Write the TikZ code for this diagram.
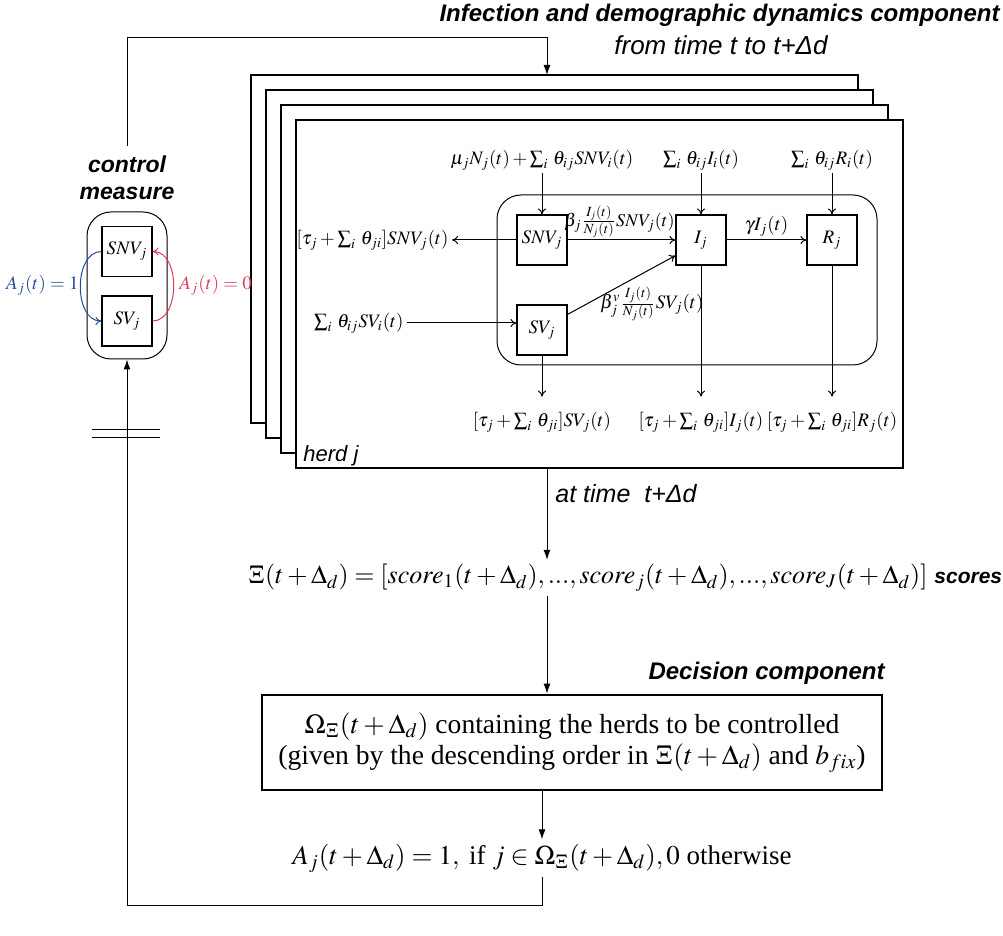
\documentclass[tikz,border=0pt]{standalone}
\usepackage{mathptmx}
\usepackage[no-math]{fontspec}
\setmainfont{Liberation Serif}
\setsansfont{Liberation Sans}
\usetikzlibrary{arrows.meta}
\definecolor{cblue}{RGB}{35,75,155}
\definecolor{cred}{RGB}{220,60,85}
\newcommand{\sgap}{\mkern2.5mu}
\tikzset{
  comp/.style={draw, line width=0.6pt, minimum width=25pt, minimum height=25pt, inner sep=0pt, font=\fontsize{9.5}{11}\selectfont},
  lab/.style={inner sep=1.5pt, font=\fontsize{9.5}{11}\selectfont},
  sflab/.style={inner sep=0pt, font=\fontsize{11}{13}\selectfont\sffamily\itshape},
  sfbold/.style={inner sep=0pt, font=\fontsize{12}{13.5}\selectfont\sffamily\bfseries\itshape},
  bigmath/.style={inner sep=2pt, font=\fontsize{13}{15}\selectfont},
  flow/.style={-{To[length=3pt,width=4pt]}, line width=0.5pt},
  bigflow/.style={-{Latex[length=5pt,width=3.5pt]}, line width=0.5pt},
  herdframe/.style={draw, line width=1.4pt, fill=white},
  group/.style={draw, rounded corners=12pt, line width=0.5pt, inner sep=0pt},
}
\begin{document}
\begin{tikzpicture}[x=0.5pt,y=-0.5pt]
\useasboundingbox (0,0) rectangle (1003,936);

% stacked herd frames
\foreach \k in {0,1,2,3}
  \draw[herdframe] (251+15*\k,75+15*\k) rectangle (858+15*\k,423+15*\k);
\coordinate (herdtop) at (547,75);
\coordinate (herdbot) at (547,468);

% titles
\node[sfbold, anchor=east] (ttl) at (1000,15) {Infection and demographic dynamics component};
\node[sflab, font=\fontsize{13}{15}\selectfont\sffamily\itshape] (ttl2) at (721,45) {from time t to t+Δd};
\node[sflab, anchor=south west] (herd) at (303,466) {herd j};

% control measure
\node[sfbold, font=\fontsize{11.5}{13.5}\selectfont\sffamily\bfseries\itshape, align=center, inner sep=5pt] (ctrl) at (127,178) {control\\measure};
\node[group, minimum width=40pt, minimum height=73.5pt] (cbox) at (127,285.5) {};
\node[comp] (csnv) at (127,251.5) {$SNV_j$};
\node[comp] (csv) at (127,321) {$SV_j$};
\draw[flow, cblue] (csnv.west) .. controls +(-28,0) and +(-28,0) .. (csv.west);
\draw[flow, cred] (csv.east) .. controls +(28,0) and +(28,0) .. (csnv.east);
\node[lab, text=cblue, anchor=east] (a1) at (82,285) {$A_j(t)=1$};
\node[lab, text=cred, anchor=west] (a0) at (176,285) {$A_j(t)=0$};

% inner compartment model
\node[group, minimum width=190pt, minimum height=85pt] (grp) at (687,280) {};
\node[comp] (snv) at (542,240) {$SNV_j$};
\node[comp] (inf) at (701,240) {$I_j$};
\node[comp] (rec) at (832,240) {$R_j$};
\node[comp] (sv) at (542,330) {$SV_j$};

\node[lab] (tsnv) at (542,160) {$\mu_jN_j(t)+\sum_i\sgap\theta_{ij}SNV_i(t)$};
\node[lab] (tinf) at (701,160) {$\sum_i\sgap\theta_{ij}I_i(t)$};
\node[lab] (trec) at (832,160) {$\sum_i\sgap\theta_{ij}R_i(t)$};
\node[lab, anchor=east] (lsnv) at (452,240) {$[\tau_j+\sum_i\sgap\theta_{ji}]SNV_j(t)$};
\node[lab, anchor=east] (lsv) at (407,323) {$\sum_i\sgap\theta_{ij}SV_i(t)$};
\node[lab] (bsv) at (542,422) {$[\tau_j+\sum_i\sgap\theta_{ji}]SV_j(t)$};
\node[lab] (binf) at (701,422) {$[\tau_j+\sum_i\sgap\theta_{ji}]I_j(t)$};
\node[lab] (brec) at (832,422) {$[\tau_j+\sum_i\sgap\theta_{ji}]R_j(t)$};

\draw[flow] (tsnv.south) -- (snv.north);
\draw[flow] (tinf.south) -- (inf.north);
\draw[flow] (trec.south) -- (rec.north);
\draw[flow] (snv.west) -- (lsnv.east);
\draw[flow] (lsv.east) -- (lsv.east -| sv.west);
\draw[flow] (sv.south) -- ([yshift=6pt]bsv.north);
\draw[flow] (inf.south) -- ([yshift=6pt]binf.north);
\draw[flow] (rec.south) -- ([yshift=6pt]brec.north);
\draw[flow] (snv.east) -- node[lab, above, inner sep=1pt, font=\fontsize{9}{11}\selectfont, xshift=-1pt] {$\beta_j\frac{I_j(t)}{N_j(t)}SNV_j(t)$} (inf.west);
\draw[flow] (inf.east) -- node[lab, above] {$\gamma I_j(t)$} (rec.west);
\draw[flow] ([yshift=-5pt]sv.north east) -- node[lab, pos=0.3, anchor=north west, inner sep=0pt, yshift=5pt] {$\beta^v_j\frac{I_j(t)}{N_j(t)}SV_j(t)$} ([yshift=5pt]inf.south west);

% scores
\node[sflab, font=\fontsize{12.5}{15}\selectfont\sffamily\itshape, anchor=west] (attime) at (555,494) {at time\ \ t+Δd};
\node[bigmath] (xi) at (588,578) {$\Xi(t+\Delta_d)=[score_1(t+\Delta_d),...,score_j(t+\Delta_d),...,score_J(t+\Delta_d)]$};
\node[sfbold, font=\fontsize{10.5}{12}\selectfont\sffamily\bfseries\itshape, anchor=west] (scores) at (934,578) {scores};

% decision
\node[sfbold, anchor=east] (dect) at (885,673) {Decision component};
\node[draw, line width=1.4pt, minimum width=310pt, minimum height=47.5pt, align=center, inner sep=2pt, font=\fontsize{13.8}{15.5}\selectfont] (dec) at (572,742.5)
  {$\Omega_\Xi(t+\Delta_d)$ containing the herds to be controlled\\(given by the descending order in $\Xi(t+\Delta_d)$ and $b_{fix}$)};

\node[bigmath, font=\fontsize{13.5}{16}\selectfont] (aform) at (542,858) {$A_j(t+\Delta_d)=1,\ \mbox{if}\ j\in\Omega_\Xi(t+\Delta_d), 0\ \mbox{otherwise}$};

% main connectors
\draw[bigflow] (ctrl.north) -- (ctrl.north |- 0,38) -| (herdtop);
\draw[bigflow] (herdbot) -- (herdbot |- xi.north);
\draw[bigflow] (xi.south -| herdbot) -- (dec.north -| herdbot);
\draw[bigflow] (dec.south -| aform) -- (aform.north);
\draw[bigflow] (aform.south) -- (aform.south |- 0,905) -| (cbox.south);
\draw[line width=0.5pt] (92,430) -- (160,430);
\draw[line width=0.5pt] (92,438) -- (160,438);
\end{tikzpicture}
\end{document}
